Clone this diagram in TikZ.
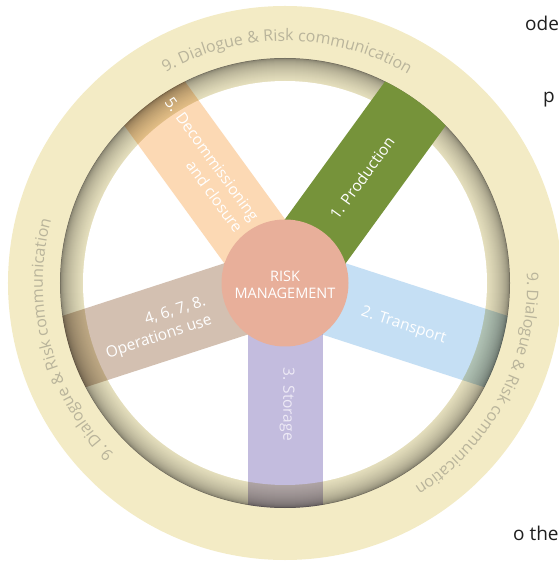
\documentclass[tikz,border=0pt]{standalone}
\usepackage{fontspec}
\setmainfont{Open Sans}
\usetikzlibrary{decorations.text}
\definecolor{beige}{HTML}{F3EBC5}
\definecolor{ringlight}{HTML}{E6E0BE}
\definecolor{ringdark}{HTML}{6C6859}
\definecolor{prodgreen}{HTML}{76933A}
\definecolor{transblue}{HTML}{C5DFF4}
\definecolor{storlav}{HTML}{C3BCDE}
\definecolor{opstaupe}{HTML}{D3C0B1}
\definecolor{decpeach}{HTML}{FCD9B4}
\definecolor{risksalmon}{HTML}{E8AF9A}
\definecolor{ringtext}{HTML}{B9B49B}
\definecolor{storagetext}{HTML}{EEEAF6}
\newcommand\ringfnt{\fontsize{16}{16}\selectfont\color{ringtext}}
\tikzset{
  spokebar/.style={fill=#1},
  spokelabel/.style={text=white, font=\fontsize{15.5}{20}\selectfont, inner sep=0pt},
  fragment/.style={anchor=base west, text=black!88, font=\fontsize{19}{19}\selectfont, inner sep=0pt},
  ringlabel/.style={decorate, decoration={text along path, text align=center,
     text={|\ringfnt|9. Dialogue {\&} Risk communication}}}
}
\begin{document}
\begin{tikzpicture}[x=1pt,y=1pt]
\useasboundingbox (-285,-278) rectangle (273,283);
% stray page text
\node[fragment] (frag1) at (240,252.3) {ode};
\node[fragment] (frag2) at (258,180) {p};
\node[fragment] (frag3) at (228,-257) {o the};
% wheel
\fill[beige] (0,0) circle (277);
\foreach \i in {0,...,46} {
  \pgfmathsetmacro\rr{225-\i*0.5}
  \pgfmathsetmacro\pp{100*(\i/46)^0.4}
  \fill[ringlight!\pp!ringdark] (0,0) circle (\rr);
}
\fill[white] (0,0) circle (202);
\begin{scope}
  \clip (0,0) circle (225);
  \begin{scope}[blend mode=multiply]
    \fill[spokebar=storlav, rotate=-90] (0,-37.5) rectangle (240,37.5);
    \fill[spokebar=transblue, rotate=-18] (0,-37.5) rectangle (240,37.5);
    \fill[spokebar=opstaupe, rotate=198] (0,-37.5) rectangle (240,37.5);
    \fill[spokebar=decpeach, rotate=126] (0,-37.5) rectangle (240,37.5);
  \end{scope}
  \fill[spokebar=prodgreen, rotate=54] (0,-37.5) rectangle (240,37.5);
\end{scope}
\node[circle, fill=risksalmon, minimum size=127, inner sep=0pt] (risk) at (0,0) {};
\node[text=white, align=center, font=\fontsize{14.5}{16.5}\selectfont, inner sep=0pt] (risktext) at (0,-2) {RISK\\MANAGEMENT};
% spoke labels
\node[spokelabel, rotate=54] (prod) at (77,105) {1. Production};
\node[spokelabel, rotate=-18] (trans) at (118.5,-43) {2. Transport};
\node[spokelabel, rotate=-90, text=storagetext] (stor) at (2,-121) {3. Storage};
\node[spokelabel, rotate=18, align=right] (ops) at (-129,-45) {4, 6, 7, 8.\\Operations use};
\node[spokelabel, rotate=-54, align=right] (decom) at (-81,118) {5. Decommissioning\\and closure};
% ring labels
\path[ringlabel] (129.5:242) arc[start angle=129.5, end angle=49.5, radius=242];
\path[ringlabel] (12.5:242) arc[start angle=12.5, end angle=-67.5, radius=242];
\path[ringlabel] (235:242) arc[start angle=235, end angle=155, radius=242];
\end{tikzpicture}
\end{document}
